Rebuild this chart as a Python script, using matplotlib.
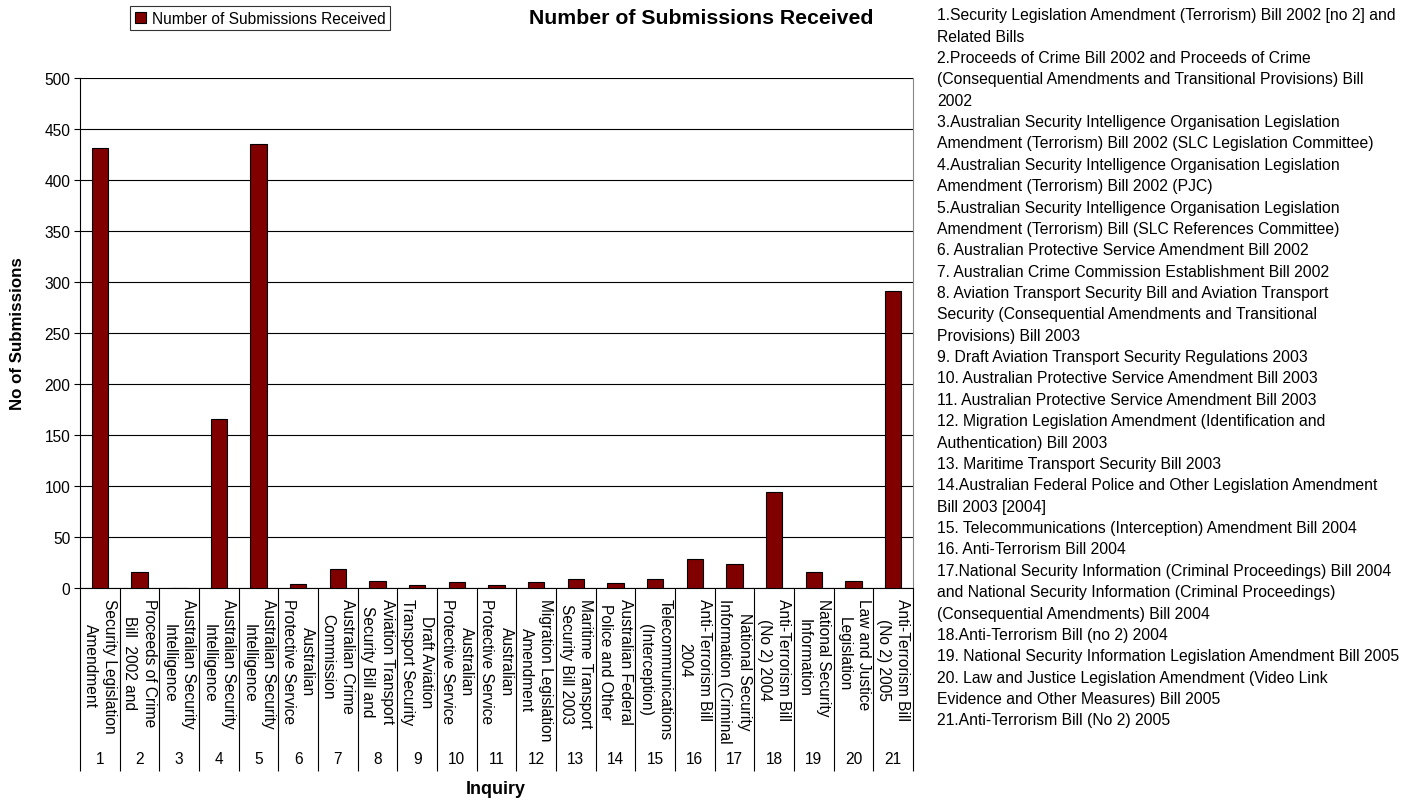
import numpy as np
import matplotlib
matplotlib.use("Agg")
import matplotlib.pyplot as plt
from matplotlib.transforms import blended_transform_factory

plt.rcParams['font.family'] = ['Liberation Sans', 'DejaVu Sans']

# ---------------- data ----------------
inquiry_numbers = list(range(1, 22))
submissions = [431, 16, 0, 166, 435, 4, 19, 7, 3, 6, 3, 6, 9, 5, 9, 28, 24, 94, 16, 7, 291]
short_labels = [
    "Security Legislation\nAmendment",
    "Proceeds of Crime\nBill  2002 and",
    "Australian Security\nIntelligence",
    "Australian Security\nIntelligence",
    "Australian Security\nIntelligence",
    "Australian\nProtective Service",
    "Australian Crime\nCommission",
    "Aviation Transport\nSecurity Bill and",
    "Draft Aviation\nTransport Security",
    "Australian\nProtective Service",
    "Australian\nProtective Service",
    "Migration Legislation\nAmendment",
    "Maritime Transport\nSecurity Bill 2003",
    "Australian Federal\nPolice and Other",
    "Telecommunications\n(Interception)",
    "Anti-Terrorism Bill\n2004",
    "National Security\nInformation (Criminal",
    "Anti-Terrorism Bill\n(No 2) 2004",
    "National Security\nInformation",
    "Law and Justice\nLegislation",
    "Anti-Terrorism Bill\n(No 2) 2005",
]
inquiry_names = [
    "1.Security Legislation Amendment (Terrorism) Bill 2002 [no 2] and\nRelated Bills",
    "2.Proceeds of Crime Bill 2002 and Proceeds of Crime\n(Consequential Amendments and Transitional Provisions) Bill\n2002",
    "3.Australian Security Intelligence Organisation Legislation\nAmendment (Terrorism) Bill 2002 (SLC Legislation Committee)",
    "4.Australian Security Intelligence Organisation Legislation\nAmendment (Terrorism) Bill 2002 (PJC)",
    "5.Australian Security Intelligence Organisation Legislation\nAmendment (Terrorism) Bill (SLC References Committee)",
    "6. Australian Protective Service Amendment Bill 2002",
    "7. Australian Crime Commission Establishment Bill 2002",
    "8. Aviation Transport Security Bill and Aviation Transport\nSecurity (Consequential Amendments and Transitional\nProvisions) Bill 2003",
    "9. Draft Aviation Transport Security Regulations 2003",
    "10. Australian Protective Service Amendment Bill 2003",
    "11. Australian Protective Service Amendment Bill 2003",
    "12. Migration Legislation Amendment (Identification and\nAuthentication) Bill 2003",
    "13. Maritime Transport Security Bill 2003",
    "14.Australian Federal Police and Other Legislation Amendment\nBill 2003 [2004]",
    "15. Telecommunications (Interception) Amendment Bill 2004",
    "16. Anti-Terrorism Bill 2004",
    "17.National Security Information (Criminal Proceedings) Bill 2004\nand National Security Information (Criminal Proceedings)\n(Consequential Amendments) Bill 2004",
    "18.Anti-Terrorism Bill (no 2) 2004",
    "19. National Security Information Legislation Amendment Bill 2005",
    "20. Law and Justice Legislation Amendment (Video Link\nEvidence and Other Measures) Bill 2005",
    "21.Anti-Terrorism Bill (No 2) 2005",
]
series_name = "Number of Submissions Received"
title = "Number of Submissions Received"
y_ticks = list(range(0, 501, 50))

# ---------------- figure ----------------
W, H = 1401, 804
fig = plt.figure(figsize=(W / 100, H / 100), dpi=100)
fig.patch.set_facecolor('white')

left_px, right_px, top_px, bottom_px = 80, 913, 79, 589
ax = fig.add_axes([left_px / W, 1 - bottom_px / H, (right_px - left_px) / W, (bottom_px - top_px) / H])

x = np.array(inquiry_numbers)
bars = ax.bar(x, submissions, width=0.41, color='#800000', edgecolor='black',
              linewidth=0.8, label=series_name, zorder=3)

ax.set_xlim(0.5, 21.5)
ax.set_ylim(0, 500)
ax.set_yticks(y_ticks)
ax.set_yticklabels([str(t) for t in y_ticks], fontsize=11.2)
ax.tick_params(axis='y', direction='out', length=4, width=0.8, pad=3, colors='black')
ax.yaxis.grid(True, color='black', linewidth=0.8, zorder=0)
ax.set_axisbelow(True)

ax.spines['top'].set_visible(False)
ax.spines['right'].set_color('#888888')
ax.spines['right'].set_linewidth(0.8)
ax.spines['left'].set_linewidth(0.8)
ax.spines['bottom'].set_linewidth(0.8)

# category separators via major ticks, labels as text
ax.set_xticks(np.arange(0.5, 21.6, 1.0))
ax.set_xticklabels([])
sep_len_pt = (772 - bottom_px) * 72 / 100
ax.tick_params(axis='x', direction='out', length=sep_len_pt, width=0.8, colors='black')

trans = blended_transform_factory(ax.transData, ax.transAxes)
ax_h = bottom_px - top_px
for xi, lab in zip(x, short_labels):
    ax.text(xi, -(599 - bottom_px) / ax_h, lab, transform=trans, rotation=270,
            ha='center', va='top', multialignment='center', fontsize=11.2,
            linespacing=1.35, clip_on=False)
    ax.text(xi, -(760 - bottom_px) / ax_h, str(xi), transform=trans,
            ha='center', va='center', fontsize=11.2, clip_on=False)

fig.text(496 / W, 1 - 790 / H, "Inquiry", ha='center', va='center',
         fontsize=13, fontweight='bold')
fig.text(18 / W, 1 - 334 / H, "No of Submissions", ha='center', va='center',
         rotation=90, fontsize=12.2, fontweight='bold')
fig.text(701 / W, 1 - 18 / H, title, ha='center', va='center',
         fontsize=15.3, fontweight='bold')

leg = ax.legend(loc='upper left', bbox_to_anchor=(130 / W, 1 - 7 / H),
                bbox_transform=fig.transFigure, frameon=True, fancybox=False,
                edgecolor='black', fontsize=11.2, handlelength=0.7, handleheight=0.7,
                handletextpad=0.4, borderpad=0.3, borderaxespad=0)
leg.get_frame().set_linewidth(0.8)

# right-hand description list
lines = []
for name in inquiry_names:
    lines.extend(name.split("\n"))
y0 = 15.7
dy = 21.37
for k, line in enumerate(lines):
    fig.text(937 / W, 1 - (y0 + k * dy) / H, line, ha='left', va='center', fontsize=11.3)

fig.savefig("out.png", dpi=100, facecolor='white')
